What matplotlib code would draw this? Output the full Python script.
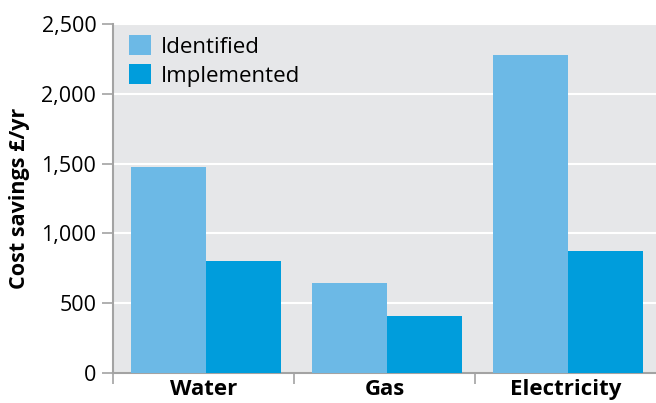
import numpy as np
import matplotlib
matplotlib.use('Agg')
import matplotlib.pyplot as plt
from matplotlib.ticker import FuncFormatter

plt.rcParams['font.family'] = ['Open Sans', 'DejaVu Sans']

categories = ['Water', 'Gas', 'Electricity']
identified = [1475, 645, 2280]
implemented = [800, 405, 875]

light_blue = '#6cb9e6'
dark_blue = '#009ddc'
panel_grey = '#e6e7e9'
axis_grey = '#a3a3a3'

fig = plt.figure(figsize=(6.56, 4.03), dpi=100)
ax = fig.add_axes([113 / 656, 30 / 403, 1 - 113 / 656, (373 - 24) / 403])
ax.set_facecolor(panel_grey)

x = np.arange(len(categories)) + 0.014
width = 0.415
ax.bar(x - width / 2, identified, width, color=light_blue, label='Identified', zorder=3)
ax.bar(x + width / 2, implemented, width, color=dark_blue, label='Implemented', zorder=3)

ax.set_xlim(-0.5, len(categories) - 0.5)
ax.set_ylim(0, 2500)
ax.set_yticks(np.arange(0, 2501, 500))
ax.yaxis.set_major_formatter(FuncFormatter(lambda v, p: '{:,.0f}'.format(v)))
ax.yaxis.grid(True, color='white', linewidth=1.5, zorder=0)

# group boundaries carry the tick marks, names sit at the group centres
ax.set_xticks(np.arange(len(categories)) - 0.5)
ax.set_xticklabels([])
ax.set_xticks(np.arange(len(categories)), minor=True)
ax.set_xticklabels(categories, minor=True, fontsize=16, fontweight='bold')
ax.tick_params(axis='x', which='minor', length=0, pad=4)
ax.tick_params(axis='x', which='major', length=8, color=axis_grey, width=1.2)
ax.tick_params(axis='y', length=8, color=axis_grey, width=1.2, labelsize=15.5, pad=4)

for side in ['top', 'right']:
    ax.spines[side].set_visible(False)
for side in ['left', 'bottom']:
    ax.spines[side].set_color(axis_grey)
    ax.spines[side].set_linewidth(1.5)

ax.set_ylabel('Cost savings £/yr', fontsize=15.5, fontweight='bold', labelpad=8)

ax.legend(loc='upper left', frameon=False, fontsize=16, handlelength=1.0,
          handleheight=1.0, handletextpad=0.45, labelspacing=0.3,
          borderaxespad=0.0, bbox_to_anchor=(0.013, 0.994))

fig.savefig('out.png', dpi=100, facecolor='white')
